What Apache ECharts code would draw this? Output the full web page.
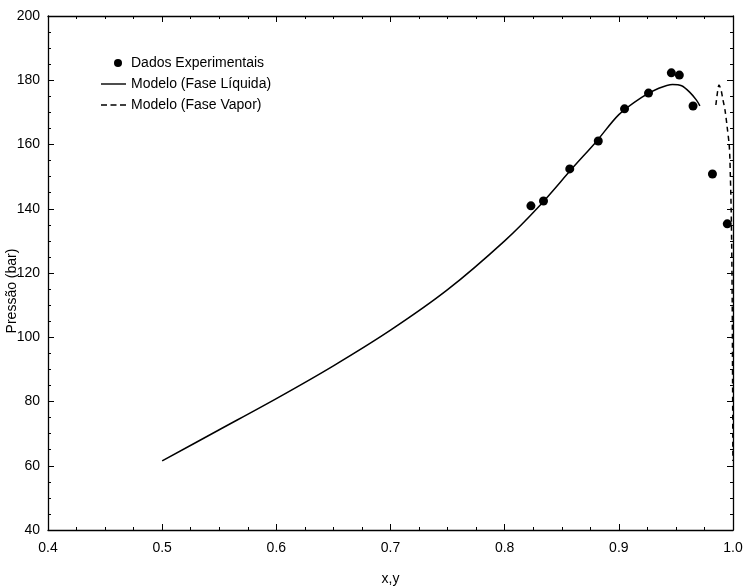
<!DOCTYPE html>
<html>
<head>
<meta charset="utf-8">
<script src="https://cdn.jsdelivr.net/npm/echarts@6/dist/echarts.min.js"></script>
<style>html,body{margin:0;padding:0;background:#fff}#c{width:747px;height:587px}</style>
</head>
<body>
<div id="c"></div>
<script>
// Experimental data (x or y fraction, pressure in bar)
var expX = [0.823, 0.834, 0.857, 0.882, 0.905, 0.926, 0.946, 0.953, 0.965, 0.982, 0.995];
var expP = [140.9, 142.4, 152.4, 161.1, 171.1, 176.0, 182.3, 181.6, 172.0, 150.8, 135.3];

// Model, liquid phase
var liqX = [0.50, 0.55, 0.60, 0.65, 0.70, 0.75, 0.80, 0.83, 0.86, 0.88, 0.90, 0.92, 0.935, 0.947, 0.955, 0.962, 0.968, 0.971];
var liqP = [61.5, 71.2, 80.9, 91.1, 102.2, 114.8, 130.0, 140.7, 152.9, 160.8, 169.3, 174.7, 177.5, 178.7, 178.3, 176.3, 173.8, 172.0];

// Model, vapour phase
var vapX = [0.985, 0.9865, 0.9877, 0.9895, 0.9912, 0.9930, 0.9947, 0.9968, 0.9977, 0.9984, 0.9989, 0.9993, 0.9996, 0.9999];
var vapP = [172.3, 176.5, 178.5, 177.0, 173.9, 170.7, 166.0, 159.2, 150.0, 139.6, 127.0, 111.6, 90.0, 61.5];

var xTicks = [0.4, 0.5, 0.6, 0.7, 0.8, 0.9, 1.0];
var yTicks = [40, 60, 80, 100, 120, 140, 160, 180, 200];

function zip(a, b) { return a.map(function (v, i) { return [v, b[i]]; }); }

var FONT = 'Liberation Sans';
var chart = echarts.init(document.getElementById('c'), null, { renderer: 'canvas' });

var axisCommon = {
  axisLine: { show: true, lineStyle: { color: '#000', width: 1.3 } },
  axisTick: { show: true, inside: true, length: 6, lineStyle: { color: '#000', width: 1 } },
  minorTick: { show: true, splitNumber: 4, length: 3, lineStyle: { color: '#000', width: 1 } },
  splitLine: { show: false },
  minorSplitLine: { show: false }
};

var dotIcon = 'path://M0,0M25,8M13,4a4,4 0 1,0 8,0a4,4 0 1,0 -8,0Z';
var solidIcon = 'path://M0,0M25,8M0,3.3L25,3.3L25,4.7L0,4.7Z';
var dashIcon = 'path://M0,0M25,8M0,3.3L6,3.3L6,4.7L0,4.7ZM9.5,3.3L15.5,3.3L15.5,4.7L9.5,4.7ZM19,3.3L25,3.3L25,4.7L19,4.7Z';

chart.setOption({
  backgroundColor: '#fff',
  animation: false,
  textStyle: { fontFamily: FONT },
  grid: { left: 48, right: 14, top: 16, bottom: 57, containLabel: false, outerBoundsMode: 'none' },
  legend: {
    orient: 'vertical',
    left: 101,
    top: 56,
    padding: 0,
    itemWidth: 25,
    itemHeight: 8,
    itemGap: 7,
    textStyle: { fontFamily: FONT, fontSize: 14, color: '#000' },
    data: [
      { name: 'Dados Experimentais', icon: dotIcon },
      { name: 'Modelo (Fase Líquida)', icon: solidIcon },
      { name: 'Modelo (Fase Vapor)', icon: dashIcon }
    ]
  },
  xAxis: [
    Object.assign({}, axisCommon, {
      type: 'value', min: xTicks[0], max: xTicks[xTicks.length - 1], interval: 0.1,
      position: 'bottom',
      name: 'x,y', nameLocation: 'middle', nameGap: 42, nameMoveOverlap: false,
      nameTextStyle: { fontFamily: FONT, fontSize: 14, color: '#000' },
      axisLabel: { fontFamily: FONT, fontSize: 14, color: '#000', margin: 11,
        formatter: function (v) { return v.toFixed(1); } }
    }),
    Object.assign({}, axisCommon, {
      type: 'value', min: xTicks[0], max: xTicks[xTicks.length - 1], interval: 0.1,
      position: 'top', axisLabel: { show: false }
    })
  ],
  yAxis: [
    Object.assign({}, axisCommon, {
      type: 'value', min: yTicks[0], max: yTicks[yTicks.length - 1], interval: 20,
      position: 'left',
      name: 'Pressão (bar)', nameLocation: 'middle', nameGap: 29, nameRotate: 90, nameMoveOverlap: false,
      nameTextStyle: { fontFamily: FONT, fontSize: 14, color: '#000', padding: [0, 36, 0, 0] },
      axisLabel: { fontFamily: FONT, fontSize: 14, color: '#000', margin: 8,
        formatter: function (v) { return String(v); } }
    }),
    Object.assign({}, axisCommon, {
      type: 'value', min: yTicks[0], max: yTicks[yTicks.length - 1], interval: 20,
      position: 'right', axisLabel: { show: false }
    })
  ],
  series: [
    {
      name: 'Dados Experimentais', type: 'scatter',
      data: zip(expX, expP), symbol: 'circle', symbolSize: 9,
      itemStyle: { color: '#000', opacity: 1 }
    },
    {
      name: 'Modelo (Fase Líquida)', type: 'line',
      data: zip(liqX, liqP), smooth: 0.3, symbol: 'none', showSymbol: false,
      lineStyle: { color: '#000', width: 1.5, type: 'solid' },
      itemStyle: { color: '#000' }
    },
    {
      name: 'Modelo (Fase Vapor)', type: 'line',
      data: zip(vapX, vapP), smooth: 0.3, symbol: 'none', showSymbol: false,
      lineStyle: { color: '#000', width: 1.5, type: [5, 4] },
      itemStyle: { color: '#000' }
    }
  ]
});
</script>
</body>
</html>
